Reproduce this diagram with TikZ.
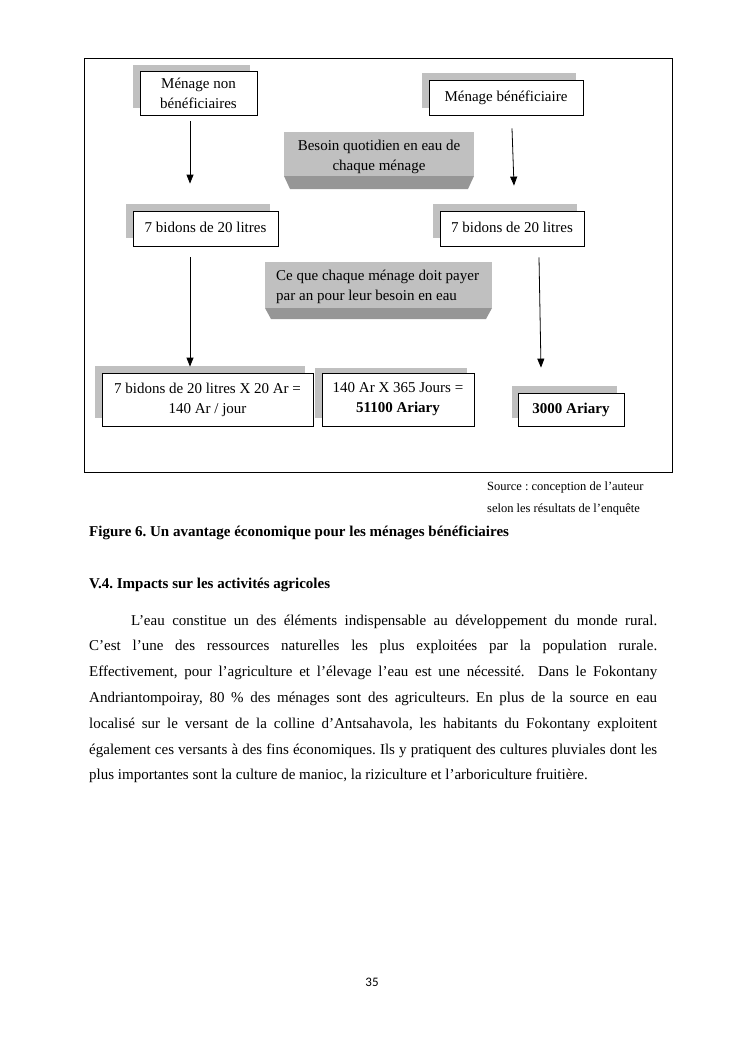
\documentclass[tikz,border=0pt]{standalone}
\usepackage{fontspec}
\setmainfont{Liberation Serif}
\newfontfamily\pagenumfont{Carlito}
\usetikzlibrary{arrows.meta}
\definecolor{shadowgray}{RGB}{192,192,192}
\definecolor{bevelgray}{RGB}{192,192,192}
\definecolor{beveldark}{RGB}{150,150,150}
\newcommand{\bodyfs}{\fontsize{15}{20}\selectfont}
\frenchspacing
\tikzset{
  wbox/.style={draw, fill=white, line width=0.8pt, inner sep=0pt, align=center, font=\bodyfs},
  shadowrect/.style={fill=shadowgray},
  bevelface/.style={fill=bevelgray},
  beveltext/.style={inner sep=0pt, font=\bodyfs},
  bevelbottom/.style={fill=beveldark},
  arr/.style={-{Triangle[length=9pt,width=7pt]}, line width=0.8pt},
  txt/.style={inner sep=0pt, anchor=base west, font=\bodyfs},
}
\begin{document}
\frenchspacing
\begin{tikzpicture}[x=1pt,y=-1pt]
\fill[white] (0,0) rectangle (745,1053);
\useasboundingbox (0,0) rectangle (745,1053);

% frame
\draw[line width=0.8pt] (84,58) rectangle (672,472);

% top row
\fill[shadowrect] (133,65) rectangle (250,108);
\node[wbox, minimum width=117pt, minimum height=44pt] (n1) at (198.5,93) {Ménage non\\bénéficiaires};
\fill[shadowrect] (422,73) rectangle (576,108);
\node[wbox, minimum width=154pt, minimum height=35pt] (n2) at (506,97.5) {\raisebox{1.5pt}{Ménage bénéficiaire}};

% bevel box 1
\fill[bevelface] (284,132) rectangle (474,176);
\fill[bevelbottom] (284,176) -- (474,176) -- (468,189) -- (290,189) -- cycle;
\node[beveltext, align=center] (b1) at (379,157) {Besoin quotidien en eau de\\chaque ménage};

% second row
\fill[shadowrect] (126,204) rectangle (270,238);
\node[wbox, minimum width=145pt, minimum height=35pt] (n3) at (205.5,228.5) {\raisebox{2.5pt}{7 bidons de 20 litres}};
\fill[shadowrect] (433,204) rectangle (577,238);
\node[wbox, minimum width=144pt, minimum height=35pt] (n4) at (512,228.5) {\raisebox{2.5pt}{7 bidons de 20 litres}};

% bevel box 2
\fill[bevelface] (265,262) rectangle (492,308);
\fill[bevelbottom] (265,308) -- (492,308) -- (486,319) -- (271,319) -- cycle;
\node[beveltext, align=left, anchor=west] (b2) at (276,287) {Ce que chaque ménage doit payer\\par an pour leur besoin en eau};

% bottom row
\fill[shadowrect] (95,366) rectangle (305,418);
\node[wbox, minimum width=211pt, minimum height=53pt] (n5) at (207.5,399.5) {7 bidons de 20 litres X 20 Ar =\\140 Ar / jour};
\fill[shadowrect] (315,368) rectangle (467,418);
\node[wbox, minimum width=152pt, minimum height=53pt] (n6) at (398,399.5) {140 Ar X 365 Jours =\\\textbf{51100 Ariary}};
\fill[shadowrect] (512,386) rectangle (617,418);
\node[wbox, minimum width=106pt, minimum height=33pt] (n7) at (571,409.5) {\raisebox{1pt}{\textbf{3000 Ariary}}};

% arrows
\draw[arr] ([xshift=-8.5pt,yshift=-6pt]n1.south) -- ([xshift=-15.5pt,yshift=27pt]n3.north);
\draw[arr] ([xshift=6pt,yshift=-13pt]n2.south) -- ([xshift=2pt,yshift=25pt]n4.north);
\draw[arr] ([xshift=-15.5pt,yshift=-11pt]n3.south) -- ([xshift=-17.5pt,yshift=6pt]n5.north);
\draw[arr] ([xshift=27pt,yshift=-11pt]n4.south) -- ([xshift=-30pt,yshift=25pt]n7.north);

% source
\node[txt, font=\fontsize{12.5}{15}\selectfont] (src1) at (487,490) {Source : conception de l’auteur};
\node[txt, font=\fontsize{12.5}{15}\selectfont] (src2) at (487,512) {selon les résultats de l’enquête};

% caption and heading
\node[txt] (cap) at (89,536) {\textbf{Figure 6. Un avantage économique pour les ménages bénéficiaires}};
\node[txt] (head) at (89,588) {\textbf{V.4. Impacts sur les activités agricoles}};

% paragraph
\node[txt] (l1) at (131,625) {\makebox[526pt][s]{L’eau constitue un des éléments indispensable au développement du monde rural.}};
\node[txt] (l2) at (89,650.8) {\makebox[568pt][s]{C’est l’une des ressources naturelles les plus exploitées par la population rurale.}};
\node[txt] (l3) at (89,676.6) {\makebox[568pt][s]{Effectivement, pour l’agriculture et l’élevage l’eau est une nécessité.\ \ Dans le Fokontany}};
\node[txt] (l4) at (89,702.4) {\makebox[568pt][s]{Andriantompoiray, 80 \% des ménages sont des agriculteurs. En plus de la source en eau}};
\node[txt] (l5) at (89,728.2) {\makebox[568pt][s]{localisé sur le versant de la colline d’Antsahavola, les habitants du Fokontany exploitent}};
\node[txt] (l6) at (89,754) {\makebox[568pt][s]{également ces versants à des fins économiques. Ils y pratiquent des cultures pluviales dont les}};
\node[txt] (l7) at (89,779.8) {plus importantes sont la culture de manioc, la riziculture et l’arboriculture fruitière.};

% page number
\node[inner sep=0pt, anchor=base, font=\pagenumfont\fontsize{13}{15}\selectfont] (pg) at (372,986) {35};
\end{tikzpicture}
\end{document}
